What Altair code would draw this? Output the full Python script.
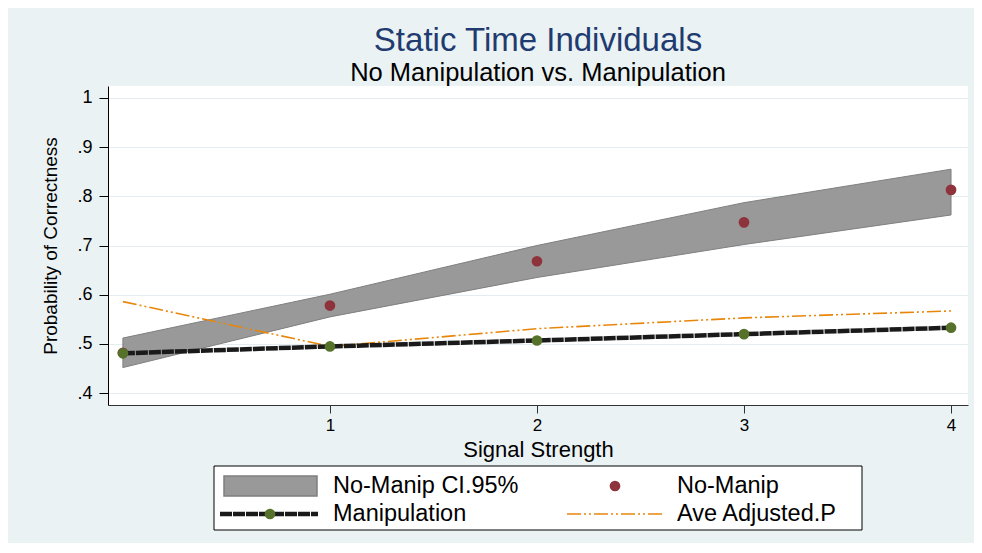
import altair as alt
import pandas as pd

# ---- data ----
signal = [0, 1, 2, 3, 4]
ci_low = [0.452, 0.555, 0.635, 0.702, 0.762]
ci_high = [0.512, 0.601, 0.700, 0.787, 0.855]
no_manip = [0.482, 0.578, 0.668, 0.747, 0.813]
manip = [0.481, 0.495, 0.507, 0.520, 0.533]
ave_adj = [0.586, 0.495, 0.531, 0.553, 0.567]

x_ticks = [1, 2, 3, 4]
y_ticks = [0.4, 0.5, 0.6, 0.7, 0.8, 0.9, 1.0]
legend_labels = ["No-Manip CI.95%", "No-Manip", "Manipulation", "Ave Adjusted.P"]

FONT = "Liberation Sans"
BG = "#EAF2F3"
GRAY_FILL = "#999999"
GRAY_STROKE = "#7F7F7F"
RED = "#8E323C"
GREEN = "#55712A"
ORANGE = "#E8860C"
BLACK = "#1A1A1A"
ORANGE_DASH = [14, 3, 2, 3, 2, 3]
BLACK_DASH = [12, 1]

df = pd.DataFrame({
    "signal": signal, "lo": ci_low, "hi": ci_high,
    "nomanip": no_manip, "manip": manip, "ave": ave_adj,
})

W, H = 860, 319

xscale = alt.Scale(domain=[-0.072, 4.082], nice=False, zero=False)
yscale = alt.Scale(domain=[0.376, 1.024], nice=False, zero=False)

xaxis = alt.Axis(
    values=x_ticks, grid=False, title="Signal Strength", format="d",
    domainColor="#333333", tickColor="#333333", tickSize=8,
    labelFontSize=17, labelPadding=4, labelColor="black",
    titleFontSize=22, titleFontWeight="normal", titleColor="black",
    titleX=W / 2, titleY=51, titleBaseline="alphabetic", titleAlign="center",
)
yaxis = alt.Axis(
    values=y_ticks, grid=True, gridColor="#E3ECEF", gridWidth=1.2,
    title="Probability of Correctness",
    labelExpr="datum.value >= 1 ? '1' : '.' + round(datum.value * 10)",
    domainColor="black", tickColor="black", tickSize=9,
    labelFontSize=18, labelPadding=7, labelColor="black",
    titleFontSize=19, titleFontWeight="normal", titleColor="black",
    titleX=-58, titleY=H / 2, titleAngle=270, titleAlign="center", titleBaseline="middle",
)

base = alt.Chart(df)
X = alt.X("signal:Q", scale=xscale, axis=xaxis)

band = base.mark_area(color=GRAY_FILL, stroke=GRAY_STROKE, strokeWidth=1, opacity=1).encode(
    x=X, y=alt.Y("lo:Q", scale=yscale, axis=yaxis), y2="hi:Q"
)
ave_line = base.mark_line(color=ORANGE, strokeWidth=1.6, strokeDash=ORANGE_DASH).encode(
    x="signal:Q", y="ave:Q"
)
manip_line = base.mark_line(color=BLACK, strokeWidth=4.5, strokeDash=BLACK_DASH).encode(
    x="signal:Q", y="manip:Q"
)
red_pts = base.mark_point(filled=True, color=RED, size=115, opacity=1).encode(
    x="signal:Q", y="nomanip:Q"
)
green_pts = base.mark_point(filled=True, color=GREEN, size=115, opacity=1).encode(
    x="signal:Q", y="manip:Q"
)

# ---- legend drawn below the plot ----
one = alt.Chart(pd.DataFrame({"k": [0]}))
leg_box = one.mark_rect(fill="white", stroke="black", strokeWidth=1).encode(
    x=alt.value(106), x2=alt.value(754), y=alt.value(380), y2=alt.value(444)
)
leg_rect = one.mark_rect(fill=GRAY_FILL, stroke=GRAY_STROKE, strokeWidth=1.5).encode(
    x=alt.value(116), x2=alt.value(209), y=alt.value(390), y2=alt.value(410)
)
leg_red = one.mark_point(filled=True, color=RED, size=115, opacity=1).encode(
    x=alt.value(507), y=alt.value(400)
)
leg_black = one.mark_rule(color=BLACK, strokeWidth=4.5, strokeDash=BLACK_DASH).encode(
    x=alt.value(112), x2=alt.value(210), y=alt.value(428)
)
leg_green = one.mark_point(filled=True, color=GREEN, size=115, opacity=1).encode(
    x=alt.value(162), y=alt.value(428)
)
leg_orange = one.mark_rule(color=ORANGE, strokeWidth=1.6, strokeDash=ORANGE_DASH).encode(
    x=alt.value(459), x2=alt.value(554), y=alt.value(428)
)
text_pos = [(225, 400), (569, 400), (225, 428), (569, 428)]
leg_texts = [
    one.mark_text(text=lab, align="left", baseline="middle", fontSize=23.5, color="black", font=FONT).encode(
        x=alt.value(px), y=alt.value(py)
    )
    for lab, (px, py) in zip(legend_labels, text_pos)
]

chart = alt.layer(
    band, ave_line, manip_line, red_pts, green_pts,
    leg_box, leg_rect, leg_red, leg_black, leg_green, leg_orange, *leg_texts,
).properties(
    width=W, height=H,
    title=alt.TitleParams(
        text="Static Time Individuals",
        subtitle="No Manipulation vs. Manipulation",
        fontSize=33, fontWeight="normal", color="#1F3B6F", font=FONT,
        subtitleFontSize=25.5, subtitleColor="black", subtitleFont=FONT,
        subtitlePadding=3, anchor="middle", offset=0,
    ),
    background=BG,
    padding={"left": 100, "top": 78, "right": 6, "bottom": 138},
    autosize=alt.AutoSizeParams(type="none"),
).configure(font=FONT).configure_view(fill="white", stroke=None)

chart.save("out.html", embed_options={"renderer": "svg", "actions": False})
